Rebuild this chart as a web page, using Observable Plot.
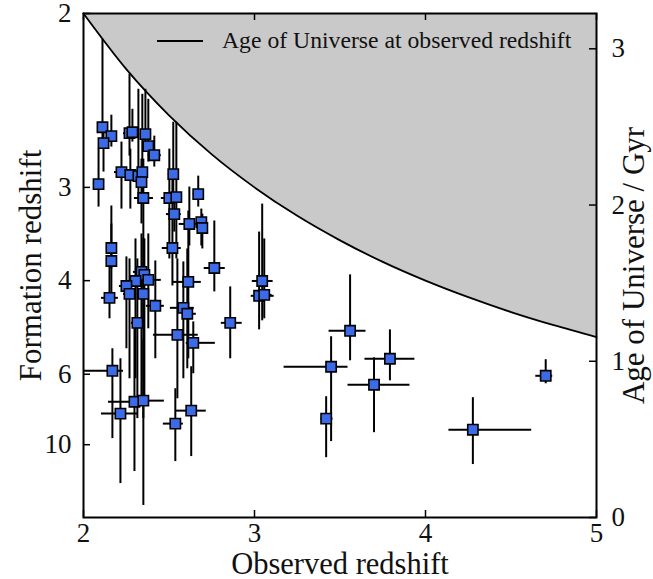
<!DOCTYPE html>
<html><head><meta charset="utf-8">
<script src="https://cdn.jsdelivr.net/npm/d3@7"></script>
<script src="https://cdn.jsdelivr.net/npm/@observablehq/plot@0.6"></script>
<style>
body{margin:0;background:#fff;}
#chart{position:relative;width:653px;height:579px;}
#legend{position:absolute;left:157px;top:27px;display:flex;align-items:center;font-family:"Liberation Serif",serif;font-size:23.7px;color:#111;white-space:nowrap;}
#legend svg{margin-right:19px;}
</style></head><body><div id="chart"></div>
<script>
// Age of Universe at observed redshift (curve)
const curveZ   = [2, 2.25, 2.5, 2.75, 3, 3.25, 3.5, 3.75, 4, 4.25, 4.5, 4.75, 5];
const curveAge = [3.226, 2.870, 2.574, 2.324, 2.113, 1.931, 1.774, 1.636, 1.516, 1.410, 1.315, 1.231, 1.155];

// Left axis: formation redshift tick labels and their ages (Gyr)
const formTickLabels = [2, 3, 4, 6, 10];
const formTickAge    = [3.226, 2.113, 1.516, 0.917, 0.466];
// Right axis and x axis ticks
const ageTicks = [0, 1, 2, 3];
const zTicks = [2, 3, 4, 5];

// Galaxies: observed redshift with range, formation age (Gyr) with range
const zObs = [2.111,2.163,2.117,2.269,2.286,2.362,2.379,2.414,2.222,2.274,2.321,2.344,2.339,2.525,2.088,2.350,2.502,2.543,2.671,2.531,2.619,2.689,2.695,2.163,2.163,2.520,2.765,2.339,2.356,2.304,2.379,2.251,2.269,2.350,2.152,2.613,2.420,2.584,2.607,2.315,2.858,2.549,2.642,2.169,2.298,2.350,2.216,2.537,2.630,3.045,3.027,3.057,3.559,3.448,3.792,3.699,3.419,4.703,4.277];
const zObsMin = [2.082,2.140,2.088,2.234,2.263,2.333,2.356,2.379,2.181,2.245,2.292,2.315,2.309,2.496,2.058,2.298,2.455,2.514,2.642,2.485,2.560,2.660,2.666,2.134,2.134,2.461,2.706,2.292,2.321,2.269,2.339,2.210,2.234,2.315,2.105,2.525,2.368,2.508,2.578,2.280,2.806,2.409,2.601,2.006,2.146,2.309,2.105,2.467,2.543,2.987,2.981,3.010,3.436,3.173,3.646,3.547,3.389,4.645,4.137];
const zObsMax = [2.140,2.187,2.146,2.304,2.315,2.391,2.403,2.455,2.263,2.304,2.350,2.374,2.368,2.560,2.117,2.409,2.555,2.572,2.701,2.572,2.660,2.718,2.724,2.193,2.193,2.572,2.829,2.385,2.397,2.339,2.455,2.298,2.304,2.385,2.204,2.689,2.473,2.648,2.660,2.350,2.928,2.671,2.771,2.234,2.379,2.473,2.321,2.584,2.718,3.109,3.115,3.103,3.652,3.547,3.938,3.909,3.459,4.744,4.621];
const ageForm = [2.498,2.441,2.396,2.460,2.466,2.454,2.377,2.319,2.211,2.192,2.185,2.211,2.147,2.198,2.134,2.045,2.045,2.051,2.070,1.942,1.879,1.891,1.853,1.725,1.642,1.725,1.597,1.572,1.553,1.514,1.521,1.482,1.431,1.431,1.406,1.508,1.355,1.342,1.304,1.246,1.246,1.169,1.118,0.939,0.741,0.748,0.665,0.601,0.684,1.514,1.419,1.425,1.195,0.965,1.016,0.850,0.633,0.907,0.562];
const ageFormMin = [2.358,2.371,2.211,2.313,2.403,2.403,2.275,2.243,1.974,1.974,2.006,2.038,1.879,2.038,1.987,1.208,1.655,1.655,1.987,1.827,1.738,1.738,1.719,1.591,1.399,1.482,1.444,0.760,0.760,0.888,1.208,1.080,0.888,0.633,1.272,1.016,1.016,0.888,0.952,0.633,1.016,0.760,0.920,0.505,0.294,0.077,0.217,0.358,0.390,1.259,1.201,1.272,1.003,0.486,0.875,0.543,0.383,0.856,0.339];
const ageFormMax = [3.061,2.575,2.486,2.837,2.613,2.741,2.677,2.441,2.403,2.358,2.741,2.709,2.294,2.530,2.358,2.294,2.358,2.530,2.185,2.038,2.115,1.974,1.942,1.994,1.879,2.166,1.898,1.815,1.783,1.783,1.815,1.668,1.655,1.783,1.655,1.962,1.642,1.636,1.719,1.655,1.476,1.655,1.252,1.080,1.208,1.144,1.016,0.824,0.965,2.006,1.827,1.783,1.553,1.157,1.201,1.022,0.773,1.010,0.767];

const curve = curveZ.map((z, i) => ({z, age: curveAge[i]}));
const gal = zObs.map((z, i) => ({z, zMin: zObsMin[i], zMax: zObsMax[i], a: ageForm[i], aMin: ageFormMin[i], aMax: ageFormMax[i]}));

const W = 653, H = 579, mL = 83, mR = 57, mT = 13, mB = 62;
const innerW = W - mL - mR, innerH = H - mT - mB;
const yTop = formTickAge[0];
const tickLen = 7;
const font = "Liberation Serif";

const chart = Plot.plot({
  width: W, height: H,
  marginLeft: mL, marginRight: mR, marginTop: mT, marginBottom: mB,
  style: {fontFamily: font, background: "white", color: "#111", overflow: "visible"},
  x: {domain: [2, 5]},
  y: {domain: [0, yTop]},
  marks: [
    Plot.areaY(curve, {x: "z", y1: "age", y2: yTop, fill: "#c9c9c9", curve: "monotone-x"}),
    Plot.line(curve, {x: "z", y: "age", stroke: "black", strokeWidth: 1.8, curve: "monotone-x"}),
    Plot.ruleX(gal, {x: "z", y1: "aMin", y2: "aMax", stroke: "black", strokeWidth: 2}),
    Plot.ruleY(gal, {y: "a", x1: "zMin", x2: "zMax", stroke: "black", strokeWidth: 2}),
    Plot.dot(gal, {x: "z", y: "a", symbol: "square", r: 5.8, fill: "#3b6be6", stroke: "black", strokeWidth: 1.6}),
    Plot.frame({stroke: "black", strokeWidth: 2}),
    // inward ticks
    Plot.ruleX(zTicks, {x: d => d, insetTop: innerH - tickLen, stroke: "black", strokeWidth: 1.5}),
    Plot.ruleX(zTicks, {x: d => d, insetBottom: innerH - tickLen, stroke: "black", strokeWidth: 1.5}),
    Plot.ruleY(formTickAge, {y: d => d, insetRight: innerW - tickLen, stroke: "black", strokeWidth: 1.5}),
    Plot.ruleY(ageTicks, {y: d => d, insetLeft: innerW - tickLen, stroke: "black", strokeWidth: 1.5}),
    // tick labels
    Plot.axisX({ticks: zTicks, tickSize: 0, tickPadding: 5, fontSize: 27, label: null, tickFormat: d => String(d)}),
    Plot.axisY({anchor: "left", ticks: formTickAge, tickSize: 0, tickPadding: 12, fontSize: 27, label: null,
      tickFormat: d => String(formTickLabels[formTickAge.indexOf(d)])}),
    Plot.axisY({anchor: "right", ticks: ageTicks, tickSize: 0, tickPadding: 15, fontSize: 27, label: null, tickFormat: d => String(d)}),
    // axis titles
    Plot.text(["Observed redshift"], {frameAnchor: "bottom", dy: 56, textAnchor: "middle", fontSize: 30.5, fill: "#111"}),
    Plot.text(["Formation redshift"], {frameAnchor: "left", dx: -52, textAnchor: "middle", rotate: -90, fontSize: 31, fill: "#111"}),
    Plot.text(["Age of Universe / Gyr"], {frameAnchor: "right", dx: 38, textAnchor: "middle", rotate: -90, fontSize: 31, fill: "#111"})
  ]
});
const host = document.getElementById("chart");
host.appendChild(chart);
const legend = document.createElement("div");
legend.id = "legend";
legend.innerHTML = '<svg width="46" height="6"><line x1="0" y1="3" x2="46" y2="3" stroke="black" stroke-width="1.8"/></svg><span>Age of Universe at observed redshift</span>';
host.appendChild(legend);
</script>
</body></html>
